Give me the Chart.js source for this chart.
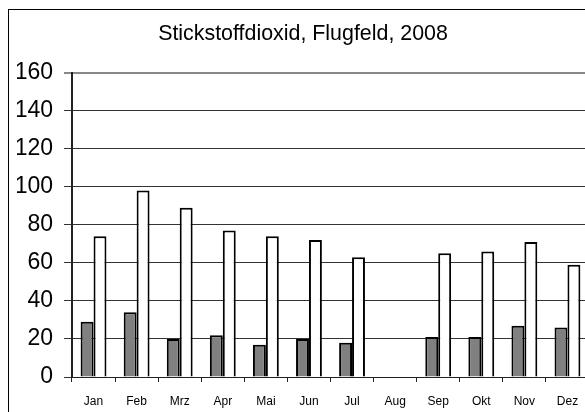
<!DOCTYPE html>
<html>
<head>
<meta charset="utf-8">
<script src="https://cdn.jsdelivr.net/npm/chart.js@4"></script>
<style>
  html, body { margin: 0; padding: 0; overflow: hidden; background: #fff; }
  #wrap { position: relative; width: 600px; height: 412px; }
</style>
</head>
<body>
<div id="wrap"><canvas id="no2Chart" width="600" height="412"></canvas></div>
<script>
const months = ["Jan", "Feb", "Mrz", "Apr", "Mai", "Jun", "Jul", "Aug", "Sep", "Okt", "Nov", "Dez"];
const meanValues = [29, 34, 20, 22, 17, 20, 18, null, 21, 21, 27, 26]; // grey bars
const maxValues = [74, 98, 89, 77, 74, 72, 63, null, 65, 66, 71, 59]; // white bars
const yTicks = [0, 20, 40, 60, 80, 100, 120, 140, 160];

// outer frame round the whole chart
const frame = {
  id: "frame",
  beforeDraw(c) {
    const g = c.ctx;
    g.save();
    g.fillStyle = "#fff";
    g.fillRect(0, 0, c.width, c.height);
    g.strokeStyle = "#000";
    g.lineWidth = 1;
    g.strokeRect(8.5, 9.5, 589, 420);
    g.restore();
  },
};

const ctx = document.getElementById("no2Chart").getContext("2d");
const chart = new Chart(ctx, {
  type: "bar",
  data: {
    labels: months,
    datasets: [
      {
        data: meanValues,
        backgroundColor: "#808080",
        borderColor: "#000",
        borderWidth: 2,
        borderSkipped: "bottom",
      },
      {
        data: maxValues,
        backgroundColor: "#fff",
        borderColor: "#000",
        borderWidth: 2,
        borderSkipped: "bottom",
      },
    ],
  },
  options: {
    responsive: false,
    animation: false,
    events: [],
    layout: { padding: { left: 17, right: 11, top: 0, bottom: 0 } },
    datasets: { bar: { categoryPercentage: 0.6, barPercentage: 1.0 } },
    scales: {
      x: {
        offset: true,
        afterFit: (s) => { s.height = 35; },
        grid: {
          offset: true,
          drawOnChartArea: false,
          drawTicks: true,
          tickLength: 5,
          color: "#222",
        },
        border: { color: "#222", width: 1 },
        ticks: {
          color: "#000",
          font: { family: "Liberation Sans, Arial, sans-serif", size: 12 },
          padding: 12,
          maxRotation: 0,
        },
      },
      y: {
        min: 0,
        max: 160,
        afterFit: (s) => { s.width = 55; },
        afterBuildTicks: (s) => { s.ticks = yTicks.map((v) => ({ value: v })); },
        grid: {
          color: (c) => (c.tick && c.tick.value === 160 ? "#888" : "#333"),
          lineWidth: (c) => (c.tick && c.tick.value === 160 ? 2 : 1),
          tickLength: 8,
        },
        border: { color: "#222", width: 2 },
        ticks: {
          color: "#000",
          font: { family: "Liberation Sans, Arial, sans-serif", size: 23 },
          padding: 11,
        },
      },
    },
    plugins: {
      legend: { display: false },
      tooltip: { enabled: false },
      title: {
        display: true,
        text: "Stickstoffdioxid, Flugfeld, 2008",
        color: "#000",
        font: { family: "Liberation Sans, Arial, sans-serif", size: 21.4, weight: "normal" },
        padding: { top: 21, bottom: 26 },
      },
    },
  },
  plugins: [frame],
});
</script>
</body>
</html>
